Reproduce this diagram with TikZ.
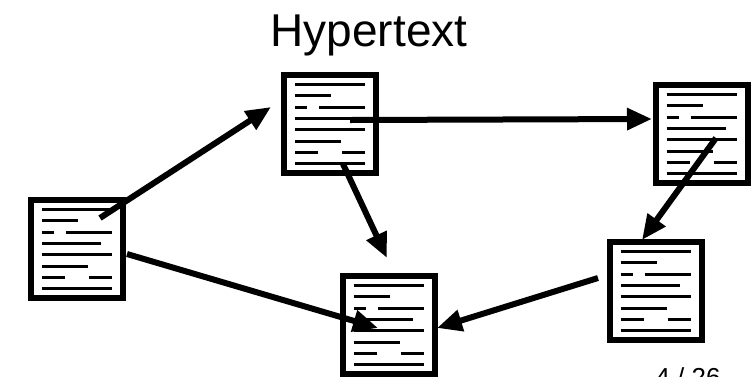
\documentclass[tikz,border=0pt]{standalone}
\usepackage{fontspec}
\setmainfont{Liberation Sans}
\usetikzlibrary{arrows.meta,calc}

\tikzset{
  % a page of text: thick frame with eight rows of "text" bars
  docpage/.style={
    draw, line width=6pt, fill=white, inner sep=0pt,
    minimum width=92pt, minimum height=98pt,
    path picture={
      \foreach \r/\xa/\xb in {0/-35/35, 1/-35/1, 2/-35/-23, 2/-11/35,
                              3/-35/24, 4/-35/35, 5/-35/11, 6/-35/-12,
                              6/12/35, 7/-35/35}
        \draw[line width=3pt]
          ([shift={({\xa pt},{39.5pt-11.3pt*\r})}]path picture bounding box.center) --
          ([shift={({\xb pt},{39.5pt-11.3pt*\r})}]path picture bounding box.center);
    }},
  link/.style={line width=6pt, -{Triangle[length=25pt,width=21pt]}}
}

\begin{document}
\begin{tikzpicture}[x=1pt, y=-1pt]
  \useasboundingbox (0,0) rectangle (753,376);
  \clip (0,0) rectangle (753,376);

  \node[font=\fontsize{46}{55}\selectfont, anchor=base] (title) at (369,46) {Hypertext};

  \node[docpage] (A) at (330,124) {};
  \node[docpage] (B) at (77,249) {};
  \node[docpage] (C) at (388.5,325) {};
  \node[docpage] (D) at (701.5,134) {};
  \node[docpage] (E) at (655.5,291) {};

  % link ends inside or beside the pages
  \coordinate (ba0) at ($(B)+(23,-31)$);
  \coordinate (ba1) at ($(A)+(-59,-17)$);
  \coordinate (ad0) at ($(A)+(20,-4)$);
  \coordinate (ad1) at ($(D)+(-49.5,-15)$);
  \coordinate (ac0) at ($(A)+(13,40)$);
  \coordinate (ac1) at ($(C)+(-1.5,-67)$);
  \coordinate (de0) at ($(D)+(14.5,4)$);
  \coordinate (de1) at ($(E)+(-13.5,-51)$);
  \coordinate (ec0) at ($(E)+(-57.5,-13)$);
  \coordinate (ec1) at ($(C)+(48.5,3)$);
  \coordinate (bc0) at ($(B)+(50,5)$);
  \coordinate (bc1) at ($(C)+(-10.5,3)$);

  \draw[link] (ba0) -- (ba1);
  \draw[link] (ad0) -- (ad1);
  \draw[link] (ac0) -- (ac1);
  \draw[link] (de0) -- (de1);
  \draw[link] (ec0) -- (ec1);
  \draw[link] (bc0) -- (bc1);

  \node[font=\fontsize{26}{31}\selectfont, anchor=base west] (pagenum) at (652,386) {4 / 26};
\end{tikzpicture}
\end{document}
